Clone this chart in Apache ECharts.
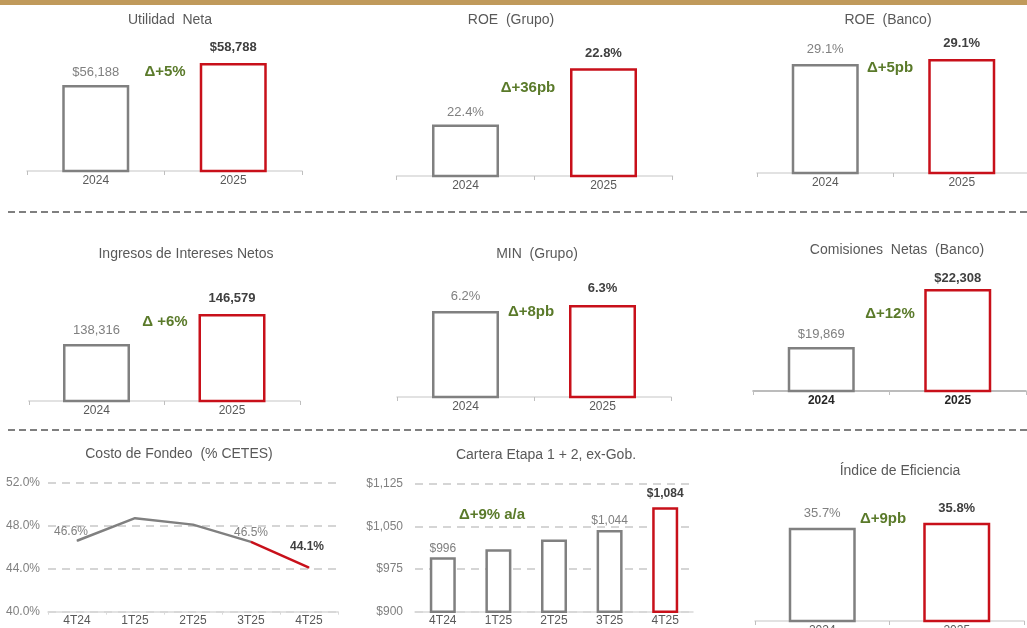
<!DOCTYPE html>
<html><head><meta charset="utf-8">
<script src="https://cdn.jsdelivr.net/npm/echarts@6/dist/echarts.min.js"></script>
<style>html,body{margin:0;padding:0;background:#fff}#c{width:1027px;height:628px}</style>
</head><body><div id="c"></div>
<script>
// ---------- data ----------
const years = ['2024', '2025'];
const utilidadNeta = [56188, 58788];
const roeGrupo = [22.43, 22.79];
const roeBanco = [29.07, 29.12];
const ingresosIntereses = [138316, 146579];
const minGrupo = [6.22, 6.30];
const comisionesNetas = [19869, 22308];
const indiceEficiencia = [35.71, 35.80];
const quarters = ['4T24', '1T25', '2T25', '3T25', '4T25'];
const costoFondeo = [46.6, 48.7, 48.1, 46.5, 44.1];
const carteraEtapa = [996, 1010, 1027, 1044, 1084];
const costoTicks = {min: 40, max: 52, interval: 4};
const carteraTicks = {min: 900, max: 1125, interval: 75};
const titles = ['Utilidad  Neta', 'ROE  (Grupo)', 'ROE  (Banco)', 'Ingresos de Intereses Netos', 'MIN  (Grupo)',
  'Comisiones  Netas  (Banco)', 'Costo de Fondeo  (% CETES)', 'Cartera Etapa 1 + 2, ex-Gob.', 'Índice de Eficiencia'];
const deltas = ['Δ+5%', 'Δ+36pb', 'Δ+5pb', 'Δ +6%', 'Δ+8pb', 'Δ+12%', 'Δ+9% a/a', 'Δ+9pb'];

// ---------- styling / layout ----------
const FONT = 'Liberation Sans, Arial, sans-serif';
const GREY = '#808080', RED = '#C8101A', GREEN = '#5a7a2a', TXT = '#595959', DARK = '#404040';
const money = v => '$' + Math.round(v).toLocaleString('en-US');
const plain = v => Math.round(v).toLocaleString('en-US');
const pct = v => v.toFixed(1) + '%';

const barPanels = [
  {data: utilidadNeta, fmt: money, title: 0, delta: 0, grid: {left: 27, top: 40, width: 275, height: 131}, y: [46000, 61500], tpos: [170, 20], dpos: [165, 72], dist: [6, 9]},
  {data: roeGrupo, fmt: pct, title: 1, delta: 1, grid: {left: 396.5, top: 40, width: 276, height: 136}, y: [22.1, 22.97], tpos: [511, 20], dpos: [528, 88], dist: [5, 8]},
  {data: roeBanco, fmt: pct, title: 2, delta: 2, grid: {left: 757, top: 40, width: 273, height: 133}, y: [27.98, 29.31], tpos: [888, 20], dpos: [890, 68], dist: [8, 9]},
  {data: ingresosIntereses, fmt: plain, title: 3, delta: 3, grid: {left: 28.75, top: 270, width: 271, height: 131}, y: [122600, 158700], tpos: [186, 254], dpos: [165, 322], dist: [7, 9]},
  {data: minGrupo, fmt: pct, title: 4, delta: 4, grid: {left: 397, top: 270, width: 274, height: 127}, y: [5.07, 6.768], tpos: [537, 254], dpos: [531, 312], dist: [8, 10]},
  {data: comisionesNetas, fmt: money, title: 5, delta: 5, grid: {left: 753, top: 270, width: 273, height: 121}, y: [18020, 23104], tpos: [897, 250], dpos: [890, 314], dist: [6, 4], boldCat: true},
  {data: indiceEficiencia, fmt: pct, title: 8, delta: 7, grid: {left: 755, top: 490, width: 269, height: 131}, y: [34.0, 36.4], tpos: [900, 471], dpos: [883, 519], dist: [8, 8]}
];

const grids = [], xAxes = [], yAxes = [], series = [], graphics = [];

graphics.push({type: 'rect', shape: {x: 0, y: 0, width: 1027, height: 5}, style: {fill: '#C09A5B'}});
[212, 430].forEach(y => graphics.push({type: 'line', shape: {x1: 8, y1: y, x2: 1027, y2: y}, style: {stroke: '#7f7f7f', lineWidth: 2, lineDash: [7, 4]}}));

function addText(text, x, y, font, color) {
  graphics.push({type: 'text', x: x, y: y, z: 10, style: {text: text, font: font, fill: color, textAlign: 'center', textVerticalAlign: 'middle', align: 'center', verticalAlign: 'middle'}});
}

barPanels.forEach((p, i) => {
  grids.push(Object.assign({outerBoundsMode: 'none', containLabel: false}, p.grid));
  xAxes.push({gridIndex: i, type: 'category', data: years,
    axisLine: {lineStyle: {color: p.boldCat ? '#a6a6a6' : '#d9d9d9', width: 1.5}},
    axisTick: {show: true, length: 4, lineStyle: {color: '#bfbfbf'}},
    axisLabel: {color: p.boldCat ? '#262626' : TXT, fontSize: 12, fontFamily: FONT, margin: 4, fontWeight: p.boldCat ? 'bold' : 'normal'}});
  yAxes.push({gridIndex: i, type: 'value', min: p.y[0], max: p.y[1], show: false, splitLine: {show: false}});
  series.push({type: 'bar', xAxisIndex: i, yAxisIndex: i, barWidth: 67,
    data: p.data.map((v, j) => ({value: v,
      itemStyle: {color: '#fff', borderColor: j ? RED : GREY, borderWidth: 2.5},
      label: {show: true, position: 'top', distance: p.dist[j], formatter: () => p.fmt(v),
        color: j ? DARK : GREY, fontWeight: j ? 'bold' : 'normal', fontSize: 13, fontFamily: FONT}}))});
  addText(titles[p.title], p.tpos[0], p.tpos[1], '14px ' + FONT, TXT);
  addText(deltas[p.delta], p.dpos[0], p.dpos[1], 'bold 15px ' + FONT, GREEN);
});

// Costo de Fondeo (line)
let gi = grids.length;
grids.push({left: 48, top: 482.7, width: 290, height: 129, outerBoundsMode: 'none', containLabel: false});
xAxes.push({gridIndex: gi, type: 'category', data: quarters, boundaryGap: true,
  axisLine: {lineStyle: {color: '#d9d9d9', width: 1.5}},
  axisTick: {show: true, length: 3, lineStyle: {color: '#d9d9d9'}},
  axisLabel: {color: TXT, fontSize: 12, fontFamily: FONT, margin: 3}});
yAxes.push({gridIndex: gi, type: 'value', min: costoTicks.min, max: costoTicks.max, interval: costoTicks.interval,
  axisLine: {show: false}, axisTick: {show: false},
  axisLabel: {color: GREY, fontSize: 12, fontFamily: FONT, margin: 8, formatter: v => v.toFixed(1) + '%'},
  splitLine: {show: true, lineStyle: {color: '#c8c8c8', width: 1.5, type: [8, 6]}}});
const n = costoFondeo.length;
series.push({type: 'line', xAxisIndex: gi, yAxisIndex: gi, symbol: 'circle', symbolSize: 1, showSymbol: true, z: 3,
  itemStyle: {color: GREY}, lineStyle: {color: GREY, width: 2.5},
  label: {show: false},
  data: costoFondeo.map((v, j) => j < n - 1 ? {value: v,
    label: {show: j === 0 || j === n - 2, position: 'top', distance: 3, offset: [j === 0 ? -6 : 0, 0],
      formatter: () => v.toFixed(1) + '%', color: GREY, fontSize: 12, fontFamily: FONT}} : '-')});
series.push({type: 'line', xAxisIndex: gi, yAxisIndex: gi, symbol: 'circle', symbolSize: 1, showSymbol: true, z: 4,
  itemStyle: {color: RED}, lineStyle: {color: RED, width: 2.5},
  label: {show: false},
  data: costoFondeo.map((v, j) => j >= n - 2 ? {value: v,
    label: {show: j === n - 1, position: 'top', distance: 14, offset: [-2, 0],
      formatter: () => v.toFixed(1) + '%', color: DARK, fontWeight: 'bold', fontSize: 12, fontFamily: FONT}} : '-')});
addText(titles[6], 179, 454, '14px ' + FONT, TXT);

// Cartera (bars)
gi = grids.length;
grids.push({left: 415, top: 484, width: 278, height: 127.7, outerBoundsMode: 'none', containLabel: false});
xAxes.push({gridIndex: gi, type: 'category', data: quarters,
  axisLine: {lineStyle: {color: '#d9d9d9', width: 1.5}}, axisTick: {show: false},
  axisLabel: {color: TXT, fontSize: 12, fontFamily: FONT, margin: 3}});
yAxes.push({gridIndex: gi, type: 'value', min: carteraTicks.min, max: carteraTicks.max, interval: carteraTicks.interval,
  axisLine: {show: false}, axisTick: {show: false},
  axisLabel: {color: GREY, fontSize: 12, fontFamily: FONT, margin: 12, formatter: v => money(v)},
  splitLine: {show: true, lineStyle: {color: '#c8c8c8', width: 1.5, type: [8, 6]}}});
const m = carteraEtapa.length;
series.push({type: 'bar', xAxisIndex: gi, yAxisIndex: gi, barWidth: 26,
  data: carteraEtapa.map((v, j) => {
    const last = j === m - 1;
    return {value: v, itemStyle: {color: '#fff', borderColor: last ? RED : GREY, borderWidth: 2.5},
      label: {show: j === 0 || j === m - 2 || last, position: 'top', distance: last ? 8 : 3,
        formatter: () => money(v), color: last ? DARK : GREY, fontWeight: last ? 'bold' : 'normal', fontSize: 12, fontFamily: FONT}};
  })});
addText(titles[7], 546, 455, '14px ' + FONT, TXT);
addText(deltas[6], 492, 515, 'bold 15px ' + FONT, GREEN);

const chart = echarts.init(document.getElementById('c'), null, {renderer: 'canvas'});
chart.setOption({animation: false, backgroundColor: '#fff', grid: grids, xAxis: xAxes, yAxis: yAxes, series: series, graphic: graphics});
</script>
</body></html>
